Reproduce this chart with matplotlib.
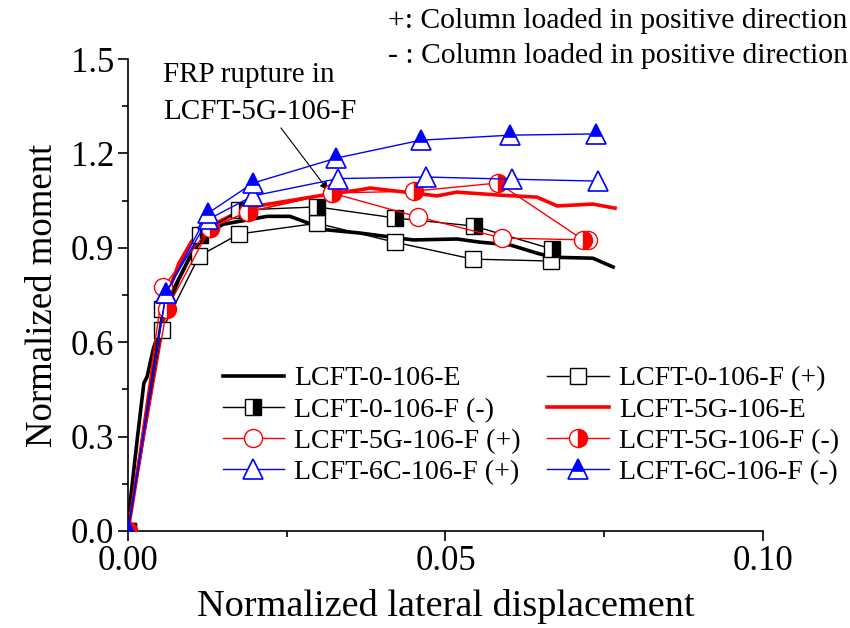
import numpy as np
import matplotlib
matplotlib.use('Agg')
import matplotlib.pyplot as plt
from matplotlib.ticker import MultipleLocator

plt.rcParams['font.family'] = ['Liberation Serif', 'DejaVu Serif']

# ---------------------------------------------------------------------------
# Normalized moment vs normalized lateral displacement
# ---------------------------------------------------------------------------

# LCFT-0-106-E (experiment envelope)
drift_0E = [0, 0.0005, 0.0015, 0.0025, 0.003, 0.004, 0.005, 0.006, 0.008,
            0.010, 0.012, 0.015, 0.0192, 0.0219, 0.0255, 0.0282, 0.0313,
            0.0365, 0.0449, 0.0518, 0.0554, 0.0602, 0.0644, 0.0669, 0.0732,
            0.0764]
m_0E = [0, 0.12, 0.30, 0.47, 0.49, 0.58, 0.64, 0.70, 0.80,
        0.88, 0.94, 0.975, 0.99, 1.0, 1.0, 0.98, 0.957,
        0.947, 0.925, 0.928, 0.918, 0.909, 0.883, 0.87, 0.867,
        0.839]

# LCFT-0-106-F (+) / (-)
drift_0F_pos = [0, 0.0054, 0.0112, 0.0175, 0.0298, 0.042, 0.0543, 0.0666]
m_0F_pos = [0, 0.64, 0.874, 0.944, 0.978, 0.918, 0.864, 0.858]
drift_0F_neg = [0, 0.0054, 0.0113, 0.0175, 0.0298, 0.042, 0.0545, 0.0668]
m_0F_neg = [0, 0.705, 0.94, 1.02, 1.03, 0.995, 0.969, 0.896]

# LCFT-5G-106-E (experiment envelope)
drift_5GE = [0, 0.002, 0.004, 0.006, 0.008, 0.010, 0.0125, 0.015, 0.018,
             0.021, 0.024, 0.027, 0.030, 0.033, 0.0365, 0.0381, 0.0449,
             0.0487, 0.0518, 0.0581, 0.0644, 0.0676, 0.0732, 0.0767]
m_5GE = [0, 0.25, 0.52, 0.74, 0.85, 0.92, 0.965, 0.99, 1.02,
         1.035, 1.045, 1.055, 1.065, 1.075, 1.084, 1.09, 1.074,
         1.065, 1.077, 1.068, 1.061, 1.033, 1.039, 1.026]

# LCFT-5G-106-F (+) / (-)
drift_5GF_pos = [0, 0.0055, 0.0129, 0.0189, 0.0321, 0.0457, 0.0589, 0.0725]
m_5GF_pos = [0, 0.775, 0.963, 1.014, 1.074, 0.998, 0.931, 0.925]
drift_5GF_neg = [0, 0.0061, 0.0129, 0.0189, 0.0321, 0.045, 0.0583, 0.0717]
m_5GF_neg = [0, 0.705, 0.963, 1.014, 1.074, 1.08, 1.106, 0.925]

# LCFT-6C-106-F (+) / (-)
drift_6CF_pos = [0, 0.006, 0.0126, 0.0197, 0.0331, 0.0469, 0.0605, 0.074]
m_6CF_pos = [0, 0.757, 0.99, 1.065, 1.12, 1.125, 1.118, 1.112]
drift_6CF_neg = [0, 0.006, 0.0126, 0.0197, 0.0328, 0.0461, 0.0602, 0.0737]
m_6CF_neg = [0, 0.757, 1.01, 1.106, 1.185, 1.242, 1.258, 1.262]

# FRP rupture point for LCFT-5G-106-F
rupture_xy = (0.0315, 1.083)

fig = plt.figure(figsize=(8.5, 6.28), dpi=100)
ax = fig.add_axes([0.1506, 0.1545, 0.747, 0.7515])

thin = 1.0
ms = 12

h0E, = ax.plot(drift_0E, m_0E, color='black', lw=2.6,
               label='LCFT-0-106-E', zorder=2)
h0Fp, = ax.plot(drift_0F_pos, m_0F_pos, color='black', lw=thin, marker='s',
                ms=ms - 1, mfc='white', mec='black', mew=1.0,
                label='LCFT-0-106-F (+)', zorder=3)
h0Fn, = ax.plot(drift_0F_neg, m_0F_neg, color='black', lw=thin, marker='s',
                ms=ms - 1, fillstyle='right', mfc='black', mfcalt='white',
                mec='black', mew=1.0, label='LCFT-0-106-F (-)', zorder=3)
h5GE, = ax.plot(drift_5GE, m_5GE, color='red', lw=2.6,
                label='LCFT-5G-106-E', zorder=2)
h5Gp, = ax.plot(drift_5GF_pos, m_5GF_pos, color='red', lw=thin, marker='o',
                ms=ms + 1, mfc='white', mec='red', mew=1.0,
                label='LCFT-5G-106-F (+)', zorder=4)
h5Gn, = ax.plot(drift_5GF_neg, m_5GF_neg, color='red', lw=thin, marker='o',
                ms=ms + 1, fillstyle='right', mfc='red', mfcalt='white',
                mec='red', mew=1.0, label='LCFT-5G-106-F (-)', zorder=4)
h6Cp, = ax.plot(drift_6CF_pos, m_6CF_pos, color='blue', lw=thin, marker='^',
                ms=ms + 3, mfc='white', mec='blue', mew=1.2,
                label='LCFT-6C-106-F (+)', zorder=5)
h6Cn, = ax.plot(drift_6CF_neg, m_6CF_neg, color='blue', lw=thin, marker='^',
                ms=ms + 3, fillstyle='top', mfc='blue', mfcalt='white',
                mec='blue', mew=1.2, label='LCFT-6C-106-F (-)', zorder=5)

ax.set_xlim(0, 0.10)
ax.set_ylim(0, 1.5)
ax.xaxis.set_major_locator(MultipleLocator(0.05))
ax.xaxis.set_minor_locator(MultipleLocator(0.025))
ax.yaxis.set_major_locator(MultipleLocator(0.3))
ax.yaxis.set_minor_locator(MultipleLocator(0.15))
ax.xaxis.set_major_formatter(plt.FuncFormatter(lambda v, p: f'{v:.2f}'))
ax.yaxis.set_major_formatter(plt.FuncFormatter(lambda v, p: f'{v:.1f}'))

for s in ('top', 'right'):
    ax.spines[s].set_visible(False)
for s in ('left', 'bottom'):
    ax.spines[s].set_linewidth(1.2)
ax.tick_params(which='major', direction='out', length=7, width=1.2,
               labelsize=25, pad=3)
ax.tick_params(which='minor', direction='out', length=4, width=1.2)

ax.set_xlabel('Normalized lateral displacement', fontsize=27.5, labelpad=8)
ax.set_ylabel('Normalized moment', fontsize=26.5, labelpad=8)

# legend filled row by row: column 1 first, then column 2
handles = [h0E, h0Fn, h5Gp, h6Cp, h0Fp, h5GE, h5Gn, h6Cn]
ax.legend(handles=handles, labels=[h.get_label() for h in handles],
          ncol=2, loc='upper left', bbox_to_anchor=(0.149, 0.35),
          frameon=False, fontsize=20.2, handlelength=2.2,
          handletextpad=0.35, columnspacing=0.95, labelspacing=0.2,
          borderpad=0, borderaxespad=0)

ax.annotate('FRP rupture in\nLCFT-5G-106-F', xy=rupture_xy,
            xytext=(0.0055, 1.39), textcoords='data', fontsize=21,
            ha='left', va='center', linespacing=1.55,
            arrowprops=dict(arrowstyle='-|>', color='black', lw=0.8,
                            shrinkA=0, shrinkB=0, mutation_scale=12,
                            relpos=(0.6, 0.0)))

fig.text(388 / 850, 1 - 21 / 628, '+: Column loaded in positive direction',
         fontsize=21.3, ha='left', va='center')
fig.text(388 / 850, 1 - 56 / 628, '- : Column loaded in positive direction',
         fontsize=21.3, ha='left', va='center')

fig.savefig('out.png', dpi=100)
